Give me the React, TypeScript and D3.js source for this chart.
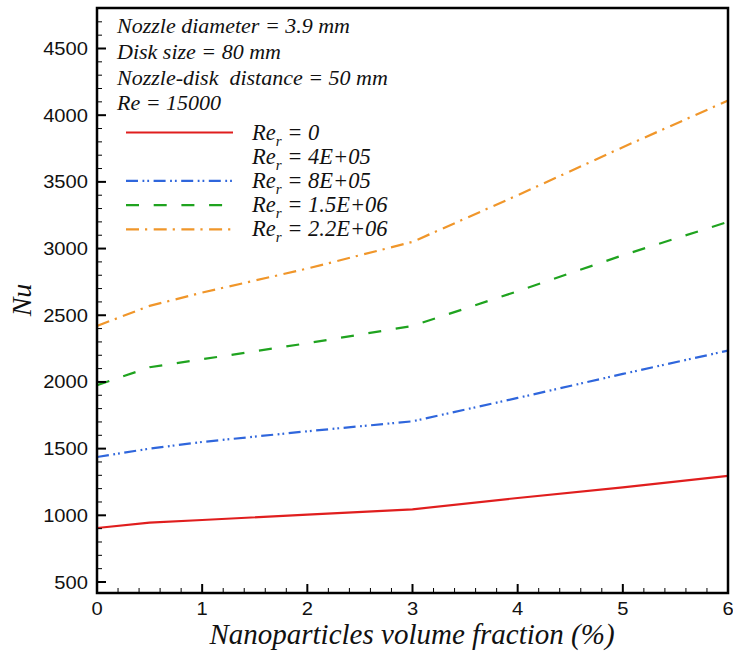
import React from "react";
import * as d3 from "d3";

// Nu versus nanoparticle volume fraction for several rotational Reynolds numbers
const fractions = [0, 0.5, 1, 2, 3, 4, 5, 6];
const nuRe0 = [905, 945, 965, 1005, 1045, 1130, 1210, 1295];
const nuRe8e5 = [1437, 1500, 1550, 1630, 1705, 1880, 2060, 2235];
const nuRe15e6 = [1975, 2110, 2170, 2290, 2420, 2680, 2950, 3200];
const nuRe22e6 = [2420, 2570, 2670, 2850, 3050, 3400, 3760, 4110];

const xTicks = [0, 1, 2, 3, 4, 5, 6];
const yTicks = [500, 1000, 1500, 2000, 2500, 3000, 3500, 4000, 4500];

const infoLines = [
  "Nozzle diameter = 3.9 mm",
  "Disk size = 80 mm",
  "Nozzle-disk  distance = 50 mm",
  "Re = 15000",
];

type Series = { label: string; values: number[] | null; color: string; dash: string };

const series: Series[] = [
  { label: "0", values: nuRe0, color: "#e01e1e", dash: "" },
  { label: "4E+05", values: null, color: "none", dash: "" },
  { label: "8E+05", values: nuRe8e5, color: "#2f66dc", dash: "12 4.5 1.8 3 1.8 4.5" },
  { label: "1.5E+06", values: nuRe15e6, color: "#1fa31f", dash: "13 14.7" },
  { label: "2.2E+06", values: nuRe22e6, color: "#f0962a", dash: "13 6 2.2 6.5" },
];

const W = 733;
const H = 652;
const left = 97;
const right = 728;
const top = 8;
const bottom = 593;

const serif = "'Liberation Serif', 'Times New Roman', serif";
const sans = "'Liberation Sans', Arial, sans-serif";

export default function App() {
  const x = d3.scaleLinear().domain([0, 6]).range([left, right]);
  const y = d3.scaleLinear().domain([500, 4500]).range([582, 48.5]);

  const line = d3
    .line<number>()
    .x((_, i) => x(fractions[i]))
    .y((d) => y(d));

  const xMinor = d3.range(0, 6.001, 0.2).filter((v) => Math.abs(v - Math.round(v)) > 1e-6);
  const yMinor = d3
    .range(500, 4801, 100)
    .filter((v) => v % 500 !== 0 && y(v) > top + 2);

  return (
    <svg
      width={W}
      height={H}
      style={{ position: "absolute", left: 0, top: 0, background: "#fff" }}
    >
      <defs>
        <clipPath id="plot">
          <rect x={left} y={top} width={right - left} height={bottom - top} />
        </clipPath>
      </defs>

      {/* curves */}
      <g clipPath="url(#plot)">
        {series
          .filter((s) => s.values)
          .map((s) => (
            <path
              key={s.label}
              d={line(s.values as number[]) || ""}
              fill="none"
              stroke={s.color}
              strokeWidth={2.2}
              strokeDasharray={s.dash || undefined}
            />
          ))}
      </g>

      {/* inward ticks */}
      {xTicks.map((t) => (
        <line key={"xt" + t} x1={x(t)} x2={x(t)} y1={bottom} y2={bottom - 9} stroke="#000" strokeWidth={2} />
      ))}
      {xMinor.map((t) => (
        <line key={"xm" + t} x1={x(t)} x2={x(t)} y1={bottom} y2={bottom - 5} stroke="#000" strokeWidth={1} />
      ))}
      {yTicks.map((t) => (
        <line key={"yt" + t} x1={left} x2={left + 9} y1={y(t)} y2={y(t)} stroke="#000" strokeWidth={2} />
      ))}
      {yMinor.map((t) => (
        <line key={"ym" + t} x1={left} x2={left + 5} y1={y(t)} y2={y(t)} stroke="#000" strokeWidth={1} />
      ))}

      {/* frame */}
      <rect x={left} y={top} width={right - left} height={bottom - top} fill="none" stroke="#000" strokeWidth={2.5} />

      {/* tick labels */}
      {xTicks.map((t) => (
        <text
          key={"xl" + t}
          transform={`translate(${x(t)}, 615) scale(1.12, 1)`}
          textAnchor="middle"
          fontFamily={sans}
          fontSize={18}
          fill="#111"
        >
          {t}
        </text>
      ))}
      {yTicks.map((t) => (
        <text
          key={"yl" + t}
          transform={`translate(88, ${y(t) + 6.5}) scale(1.12, 1)`}
          textAnchor="end"
          fontFamily={sans}
          fontSize={18}
          fill="#111"
        >
          {t}
        </text>
      ))}

      {/* axis titles */}
      <text x={412} y={644} textAnchor="middle" fontFamily={serif} fontStyle="italic" fontSize={29} fill="#111">
        Nanoparticles volume fraction (%)
      </text>
      <text
        transform={`translate(31, 300) rotate(-90)`}
        textAnchor="middle"
        fontFamily={serif}
        fontStyle="italic"
        fontSize={28}
        fill="#111"
      >
        Nu
      </text>

      {/* case description */}
      {infoLines.map((s, i) => (
        <text key={s} x={117} y={33 + i * 25.8} fontFamily={serif} fontStyle="italic" fontSize={22} fill="#111" xmlSpace="preserve">
          {s}
        </text>
      ))}

      {/* legend */}
      {series.map((s, i) => {
        const cy = 132.5 + i * 24.2;
        return (
          <g key={"lg" + s.label}>
            {s.values && (
              <line
                x1={126}
                x2={233}
                y1={cy}
                y2={cy}
                stroke={s.color}
                strokeWidth={2.2}
                strokeDasharray={s.dash || undefined}
              />
            )}
            <text x={252} y={cy + 7} fontFamily={serif} fontStyle="italic" fontSize={22.5} fill="#111">
              Re
              <tspan fontSize={15} dy={6}>r</tspan>
              <tspan dy={-6}>{" = " + s.label}</tspan>
            </text>
          </g>
        );
      })}
    </svg>
  );
}
